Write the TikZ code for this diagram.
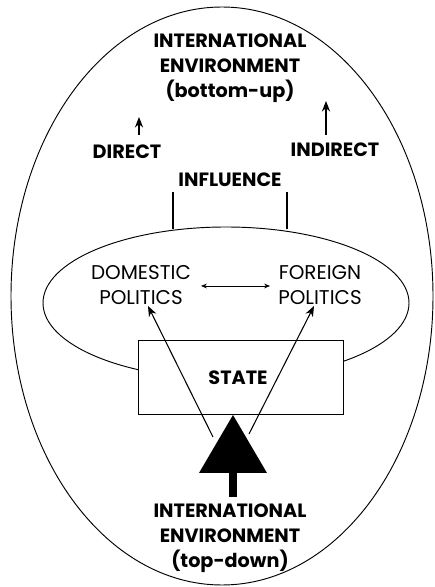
\documentclass[tikz,border=0pt]{standalone}
\usepackage{fontspec}
\setmainfont{Poppins}
\usetikzlibrary{arrows.meta}
\begin{document}
\begin{tikzpicture}[x=0.03cm, y=0.03cm, line width=0.8pt,
  boldlabel/.style={font=\fontsize{16.4}{21.5}\selectfont\bfseries, align=center, inner sep=1pt},
  plainlabel/.style={font=\fontsize{17}{22}\selectfont, align=center, inner sep=1pt},
  thinarrow/.style={-{Stealth[length=9pt, width=7pt]}, line width=0.9pt}]
  \useasboundingbox (0,0) rectangle (434,587);
  % outer and inner ovals
  \draw (222,291) ellipse [x radius=211, y radius=289];
  \draw (226,284) ellipse [x radius=183, y radius=76];
  \node[draw, fill=white, minimum width=205*0.03cm, minimum height=74*0.03cm, inner sep=0pt] (state) at (240.5,210) {};
  \node[boldlabel] (statetext) at (238,209) {STATE};
  % labels
  \node[boldlabel] (topenv) at (230,519) {INTERNATIONAL\\ENVIRONMENT\\(bottom-up)};
  \node[boldlabel] (botenv) at (230,49) {INTERNATIONAL\\ENVIRONMENT\\(top-down)};
  \node[boldlabel] (direct) at (127,435) {DIRECT};
  \node[boldlabel] (indirect) at (335,437) {INDIRECT};
  \node[boldlabel] (influence) at (230,407) {INFLUENCE};
  \node[plainlabel] (domestic) at (141,302) {DOMESTIC\\POLITICS};
  \node[plainlabel] (foreign) at (320,302) {FOREIGN\\POLITICS};
  % triangle and stem
  \coordinate (apex) at (233,172);
  \coordinate (stemtop) at (233,114);
  \coordinate (stembot) at (233,90);
  \fill (apex) -- (199,114) -- (267,114) -- cycle;
  \draw[line width=7pt] (stemtop) -- (stembot);
  % influence bars
  \coordinate (barl) at (173,358);
  \coordinate (barr) at (287,358);
  \draw[line width=2.4pt] (barl) -- (173,395);
  \draw[line width=2.4pt] (barr) -- (287,395);
  % arrows
  \coordinate (lstart) at (213,150);
  \coordinate (rstart) at (249,153);
  \draw[thinarrow] (lstart) -- (148,281);
  \draw[thinarrow] (rstart) -- (314,281);
  \draw[{Stealth[length=5pt, width=4pt]}-{Stealth[length=5pt, width=4pt]}, line width=0.6pt] (201,301) -- (270,301);
  \draw[thinarrow] (139,452) -- (139,470);
  \draw[thinarrow] (326,452) -- (326,486);
\end{tikzpicture}
\end{document}
